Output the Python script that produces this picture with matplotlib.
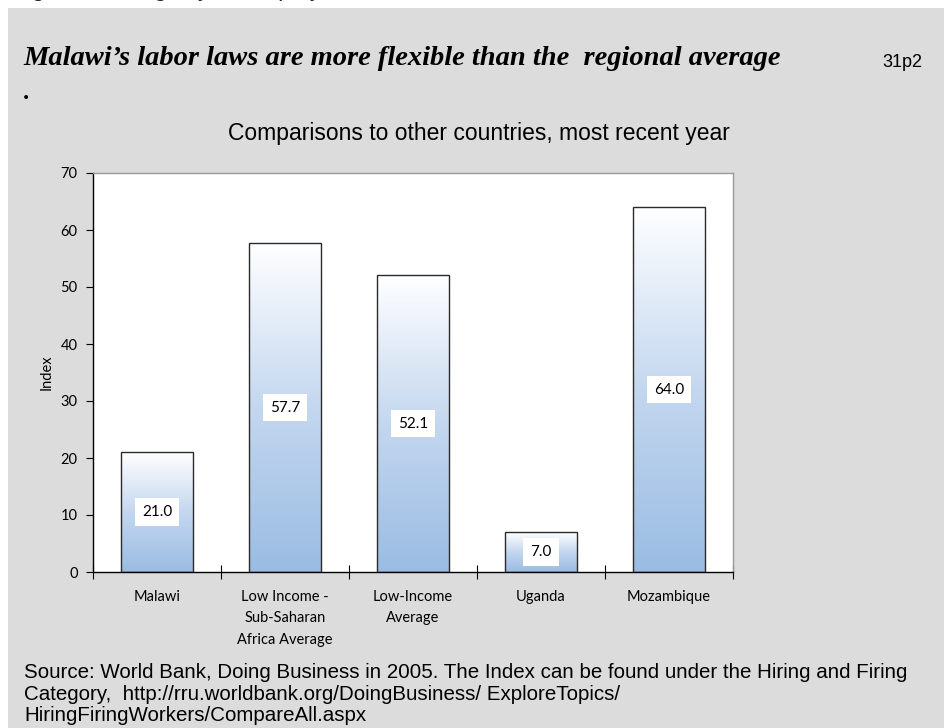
"""Bar chart: labor-law rigidity index, Malawi vs. peers."""

import matplotlib.pyplot as plt
import numpy as np
from matplotlib.colors import LinearSegmentedColormap
from matplotlib.patches import Rectangle

categories = [
    "Malawi",
    "Low Income -\nSub-Saharan\nAfrica Average",
    "Low-Income\nAverage",
    "Uganda",
    "Mozambique",
]
values = [21.0, 57.7, 52.1, 7.0, 64.0]
y_ticks = [0, 10, 20, 30, 40, 50, 60, 70]

heading = "Malawi\u2019s labor laws are more flexible than the  regional average"
subtitle = "Comparisons to other countries, most recent year"
source = (
    "Source: World Bank, Doing Business in 2005. The Index can be found under the Hiring and Firing\n"
    "Category,  http://rru.worldbank.org/DoingBusiness/ ExploreTopics/\n"
    "HiringFiringWorkers/CompareAll.aspx"
)

W, H = 945, 728
fig = plt.figure(figsize=(W / 100, H / 100), dpi=100)
fig.patch.set_facecolor("white")


def px(x, y):
    """Pixel position (from top-left) to figure fraction."""
    return x / W, 1 - y / H


# grey slide panel behind everything
fig.patches.append(Rectangle((8 / W, 0), 1, 1 - 8 / H, transform=fig.transFigure,
                             facecolor="#dcdcdc", edgecolor="none", zorder=-10))

# caption of the page above, cut off by the top edge
fig.text(*px(12, -4), "Figure 3.8: Rigidity of Employment Index", fontsize=17,
         color="#222222", family="Liberation Sans", va="baseline")

fig.text(*px(23, 65), heading, fontsize=20.5, family="Liberation Serif",
         style="italic", weight="bold", va="baseline", ha="left")
fig.text(*px(882, 67), "31p2", fontsize=13, family="Liberation Sans",
         va="baseline", ha="left")
fig.text(*px(23, 99), ".", fontsize=18, family="Liberation Serif",
         weight="bold", va="baseline")
fig.text(*px(228, 140), subtitle, fontsize=16.5, family="Liberation Sans",
         va="baseline", ha="left")
fig.text(*px(24, 663), source, fontsize=14.8, family="Liberation Sans",
         va="top", ha="left", linespacing=1.17)

ax = fig.add_axes([93 / W, 1 - 572 / H, 640 / W, 399 / H])
ax.set_facecolor("white")

x = np.arange(len(categories))
bar_w = 0.555

cmap = LinearSegmentedColormap.from_list("bar", ["#9abce3", "#c4d7ef", "#ffffff"])
grad = np.linspace(0, 1, 256).reshape(-1, 1)
for xi, v in zip(x, values):
    ax.imshow(grad, cmap=cmap, aspect="auto", origin="lower",
              extent=(xi - bar_w / 2, xi + bar_w / 2, 0, v), zorder=2)
    ax.add_patch(Rectangle((xi - bar_w / 2, 0), bar_w, v, facecolor="none",
                           edgecolor="#2a2a2a", linewidth=1.0, zorder=3))
    ax.text(xi, v / 2, f"{v:.1f}", ha="center", va="center", fontsize=11,
            family="Lato", zorder=4,
            bbox=dict(facecolor="white", edgecolor="none", pad=5))
ax.set_xlim(-0.5, len(categories) - 0.5)
ax.set_ylim(0, 70)

ax.set_yticks(y_ticks)
ax.set_yticklabels([str(t) for t in y_ticks], family="Lato", fontsize=10.5)
ax.tick_params(axis="y", direction="out", length=5, width=0.8, pad=6)

# category boundaries carry the x ticks; names sit between them
ax.set_xticks(np.arange(len(categories) + 1) - 0.5)
ax.set_xticklabels([])
ax.tick_params(axis="x", direction="inout", length=10, width=0.8)
for xi, name in zip(x, categories):
    ax.text(xi, -3.1, name, ha="center", va="top", fontsize=10.5, family="Lato",
            linespacing=1.7)

ax.set_ylabel("Index", family="Lato", fontsize=10.5, labelpad=5)

for side in ("top", "right"):
    ax.spines[side].set_color("#999999")
    ax.spines[side].set_linewidth(1.0)
for side in ("left", "bottom"):
    ax.spines[side].set_color("black")
    ax.spines[side].set_linewidth(1.0)

fig.savefig("out.png", dpi=100)
